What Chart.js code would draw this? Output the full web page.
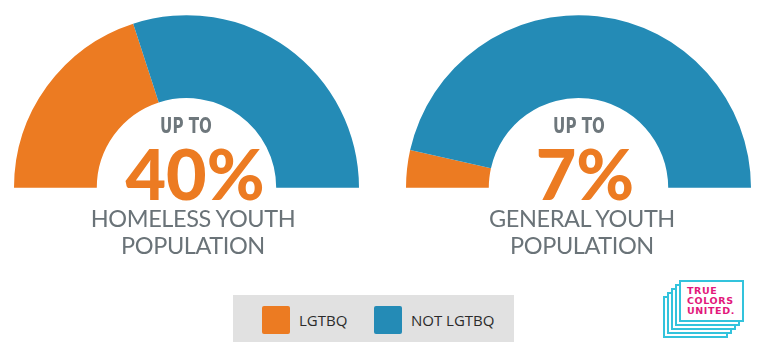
<!DOCTYPE html>
<html>
<head>
<meta charset="utf-8">
<script src="https://cdn.jsdelivr.net/npm/chart.js"></script>
<style>
  body { margin: 0; background: #fff; width: 766px; height: 354px; position: relative; overflow: hidden; font-family: Lato, sans-serif; }
  canvas { position: absolute; }
  .upto { position: absolute; width: 200px; text-align: center; font-family: "DejaVu Sans Condensed", "DejaVu Sans", sans-serif; font-weight: bold; font-size: 21px; color: #6e777c; line-height: 1; transform: scaleX(0.8); }
  .big { position: absolute; width: 240px; text-align: center; font-family: Lato, sans-serif; font-weight: 900; font-size: 70px; color: #ec7b22; line-height: 1; }
  .label { position: absolute; width: 260px; text-align: center; font-family: Lato, sans-serif; font-weight: 400; font-size: 23.5px; color: #6a7378; line-height: 27px; letter-spacing: -0.4px; }
  #legend { position: absolute; left: 233px; top: 295px; width: 281px; height: 47px; background: #e1e1e1; }
  .item { position: absolute; top: 11px; font-family: "Open Sans", sans-serif; font-size: 15px; color: #2b2b2b; line-height: 28px; }
  .sw { display: inline-block; width: 28px; height: 28px; border-radius: 2px; vertical-align: top; margin-right: 9px; }
  .logo-card { position: absolute; width: 61px; height: 38px; border: 2px solid #33c3dc; background: #fff; }
  #logo-text { position: absolute; left: 687px; top: 286px; font-family: "DejaVu Sans", sans-serif; font-weight: bold; font-size: 9.5px; line-height: 10px; letter-spacing: 0.6px; color: #e2177b; }
</style>
</head>
<body>
<canvas id="homeless" width="345" height="173" style="left:14px;top:15px"></canvas>
<canvas id="general" width="345" height="173" style="left:406px;top:15px"></canvas>

<div class="upto" style="left:86px;top:116px">UP TO</div>
<div class="big" id="big1" style="left:75px;top:138px"></div>
<div class="label" style="left:63px;top:205px">HOMELESS YOUTH<br>POPULATION</div>

<div class="upto" style="left:479px;top:116px">UP TO</div>
<div class="big" id="big2" style="left:465px;top:138px"></div>
<div class="label" style="left:452px;top:205px">GENERAL YOUTH<br>POPULATION</div>

<div id="legend"></div>

<div class="logo-card" style="left:663px;top:296px"></div>
<div class="logo-card" style="left:667px;top:292px"></div>
<div class="logo-card" style="left:671px;top:288px"></div>
<div class="logo-card" style="left:675px;top:284px"></div>
<div class="logo-card" style="left:679px;top:280px"></div>
<div id="logo-text">TRUE<br>COLORS<br>UNITED.</div>

<script>
var categories = ['LGTBQ', 'NOT LGTBQ'];
var homelessYouth = [40, 60];
var generalYouth = [7, 93];
var colors = ['#ec7b22', '#248bb6'];

document.getElementById('big1').textContent = homelessYouth[0] + '%';
document.getElementById('big2').textContent = generalYouth[0] + '%';

// legend built from the same categories / colours
var legend = document.getElementById('legend');
var lefts = [29, 141];
categories.forEach(function(c, i){
    var d = document.createElement('div');
    d.className = 'item';
    d.style.left = lefts[i] + 'px';
    d.innerHTML = '<span class="sw" style="background:' + colors[i] + '"></span>' + c;
    legend.appendChild(d);
});

function halfDonut(id, values){
    return new Chart(document.getElementById(id), {
        type: 'doughnut',
        data: {
            labels: categories,
            datasets: [{
                data: values,
                backgroundColor: colors,
                borderWidth: 0
            }]
        },
        options: {
            responsive: false,
            animation: false,
            rotation: -90,
            circumference: 180,
            cutout: '52%',
            layout: { padding: 0 },
            plugins: {
                legend: { display: false },
                tooltip: { enabled: false }
            }
        }
    });
}

halfDonut('homeless', homelessYouth);
halfDonut('general', generalYouth);
</script>
</body>
</html>
